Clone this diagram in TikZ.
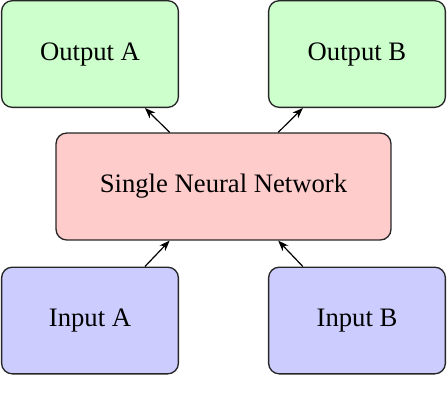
\documentclass[tikz,border=0pt]{standalone}
\usepackage{fontspec}
\setmainfont{Liberation Serif}
\usetikzlibrary{arrows.meta}
\begin{document}
\begin{tikzpicture}[x=0.375pt,y=-0.375pt,
  box/.style={draw=black!85, line width=0.5pt, rounded corners=4pt, font=\fontsize{10pt}{12pt}\selectfont, inner sep=0pt},
  outbox/.style={box, fill=green!20, minimum width=66.3pt, minimum height=40pt},
  inbox/.style={box, fill=blue!20, minimum width=66.3pt, minimum height=40pt},
  netbox/.style={box, fill=red!20, minimum width=125.6pt, minimum height=40.1pt},
  conn/.style={-{Stealth[length=4pt,width=3pt]}, line width=0.45pt}]
\useasboundingbox (0,0) rectangle (448,410);
\node[outbox] (outA) at (90,54) {Output A};
\node[outbox] (outB) at (357,54) {Output B};
\node[netbox] (net) at (223.5,186.5) {Single Neural Network};
\node[inbox] (inA) at (90,320.5) {Input A};
\node[inbox] (inB) at (357,320.5) {Input B};
\draw[conn] ([xshift=-20.2pt]net.north) -- ([xshift=20.6pt]outA.south);
\draw[conn] ([xshift=20.5pt]net.north) -- ([xshift=-20.3pt]outB.south);
\draw[conn] ([xshift=20.6pt]inA.north) -- ([xshift=-20.2pt]net.south);
\draw[conn] ([xshift=-20.3pt]inB.north) -- ([xshift=20.5pt]net.south);
\end{tikzpicture}
\end{document}
